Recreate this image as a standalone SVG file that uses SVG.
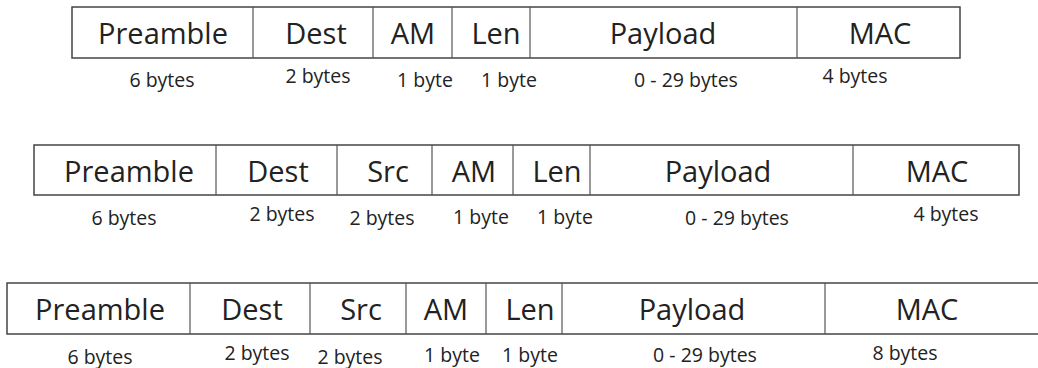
<svg xmlns="http://www.w3.org/2000/svg" width="1038" height="368" viewBox="0 0 1038 368">
  <style>
    .box { fill: #ffffff; stroke: #444444; stroke-width: 1.5; }
    .div { stroke: #555555; stroke-width: 1.2; }
    .field { font-family: "Open Sans", "Noto Sans", sans-serif; font-size: 29px; fill: #222222; text-anchor: middle; }
    .size { font-family: "Open Sans", "Noto Sans", sans-serif; font-size: 19.5px; fill: #222222; text-anchor: middle; }
  </style>
  <rect width="1038" height="368" fill="#ffffff"/>

  <!-- Frame 1: no source address, 4-byte MAC -->
  <g id="frame1">
    <rect class="box" x="72" y="7" width="888" height="51"/>
    <g id="frame1-dividers">
      <line class="div" x1="253" y1="7" x2="253" y2="58"/>
      <line class="div" x1="373" y1="7" x2="373" y2="58"/>
      <line class="div" x1="452" y1="7" x2="452" y2="58"/>
      <line class="div" x1="530" y1="7" x2="530" y2="58"/>
      <line class="div" x1="797" y1="7" x2="797" y2="58"/>
    </g>
    <text class="field" x="163" y="44">Preamble</text>
    <text class="field" x="316" y="44">Dest</text>
    <text class="field" x="413" y="44">AM</text>
    <text class="field" x="496" y="44">Len</text>
    <text class="field" x="663" y="44">Payload</text>
    <text class="field" x="880" y="44">MAC</text>
    <text class="size" x="162" y="87">6 bytes</text>
    <text class="size" x="318" y="83">2 bytes</text>
    <text class="size" x="425" y="87">1 byte</text>
    <text class="size" x="509" y="87">1 byte</text>
    <text class="size" x="686" y="87">0 - 29 bytes</text>
    <text class="size" x="855" y="83">4 bytes</text>
  </g>

  <!-- Frame 2: with source address, 4-byte MAC -->
  <g id="frame2">
    <rect class="box" x="34" y="145" width="985" height="50"/>
    <g id="frame2-dividers">
      <line class="div" x1="216" y1="145" x2="216" y2="195"/>
      <line class="div" x1="337" y1="145" x2="337" y2="195"/>
      <line class="div" x1="432" y1="145" x2="432" y2="195"/>
      <line class="div" x1="513" y1="145" x2="513" y2="195"/>
      <line class="div" x1="590" y1="145" x2="590" y2="195"/>
      <line class="div" x1="853" y1="145" x2="853" y2="195"/>
    </g>
    <text class="field" x="129" y="182">Preamble</text>
    <text class="field" x="278" y="182">Dest</text>
    <text class="field" x="388" y="182">Src</text>
    <text class="field" x="474" y="182">AM</text>
    <text class="field" x="557" y="182">Len</text>
    <text class="field" x="718" y="182">Payload</text>
    <text class="field" x="937" y="182">MAC</text>
    <text class="size" x="124" y="225">6 bytes</text>
    <text class="size" x="282" y="221">2 bytes</text>
    <text class="size" x="382" y="225">2 bytes</text>
    <text class="size" x="481" y="224">1 byte</text>
    <text class="size" x="565" y="224">1 byte</text>
    <text class="size" x="737" y="225">0 - 29 bytes</text>
    <text class="size" x="946" y="221">4 bytes</text>
  </g>

  <!-- Frame 3: with source address, 8-byte MAC; runs past the right edge -->
  <g id="frame3">
    <rect class="box" x="7" y="283" width="1040" height="51"/>
    <g id="frame3-dividers">
      <line class="div" x1="190" y1="283" x2="190" y2="334"/>
      <line class="div" x1="310" y1="283" x2="310" y2="334"/>
      <line class="div" x1="406" y1="283" x2="406" y2="334"/>
      <line class="div" x1="486" y1="283" x2="486" y2="334"/>
      <line class="div" x1="562" y1="283" x2="562" y2="334"/>
      <line class="div" x1="825" y1="283" x2="825" y2="334"/>
    </g>
    <text class="field" x="100" y="320">Preamble</text>
    <text class="field" x="252" y="320">Dest</text>
    <text class="field" x="361" y="320">Src</text>
    <text class="field" x="446" y="320">AM</text>
    <text class="field" x="530" y="320">Len</text>
    <text class="field" x="692" y="320">Payload</text>
    <text class="field" x="927" y="320">MAC</text>
    <text class="size" x="100" y="364">6 bytes</text>
    <text class="size" x="257" y="360">2 bytes</text>
    <text class="size" x="350" y="364">2 bytes</text>
    <text class="size" x="452" y="362">1 byte</text>
    <text class="size" x="530" y="362">1 byte</text>
    <text class="size" x="705" y="362">0 - 29 bytes</text>
    <text class="size" x="905" y="360">8 bytes</text>
  </g>
</svg>
